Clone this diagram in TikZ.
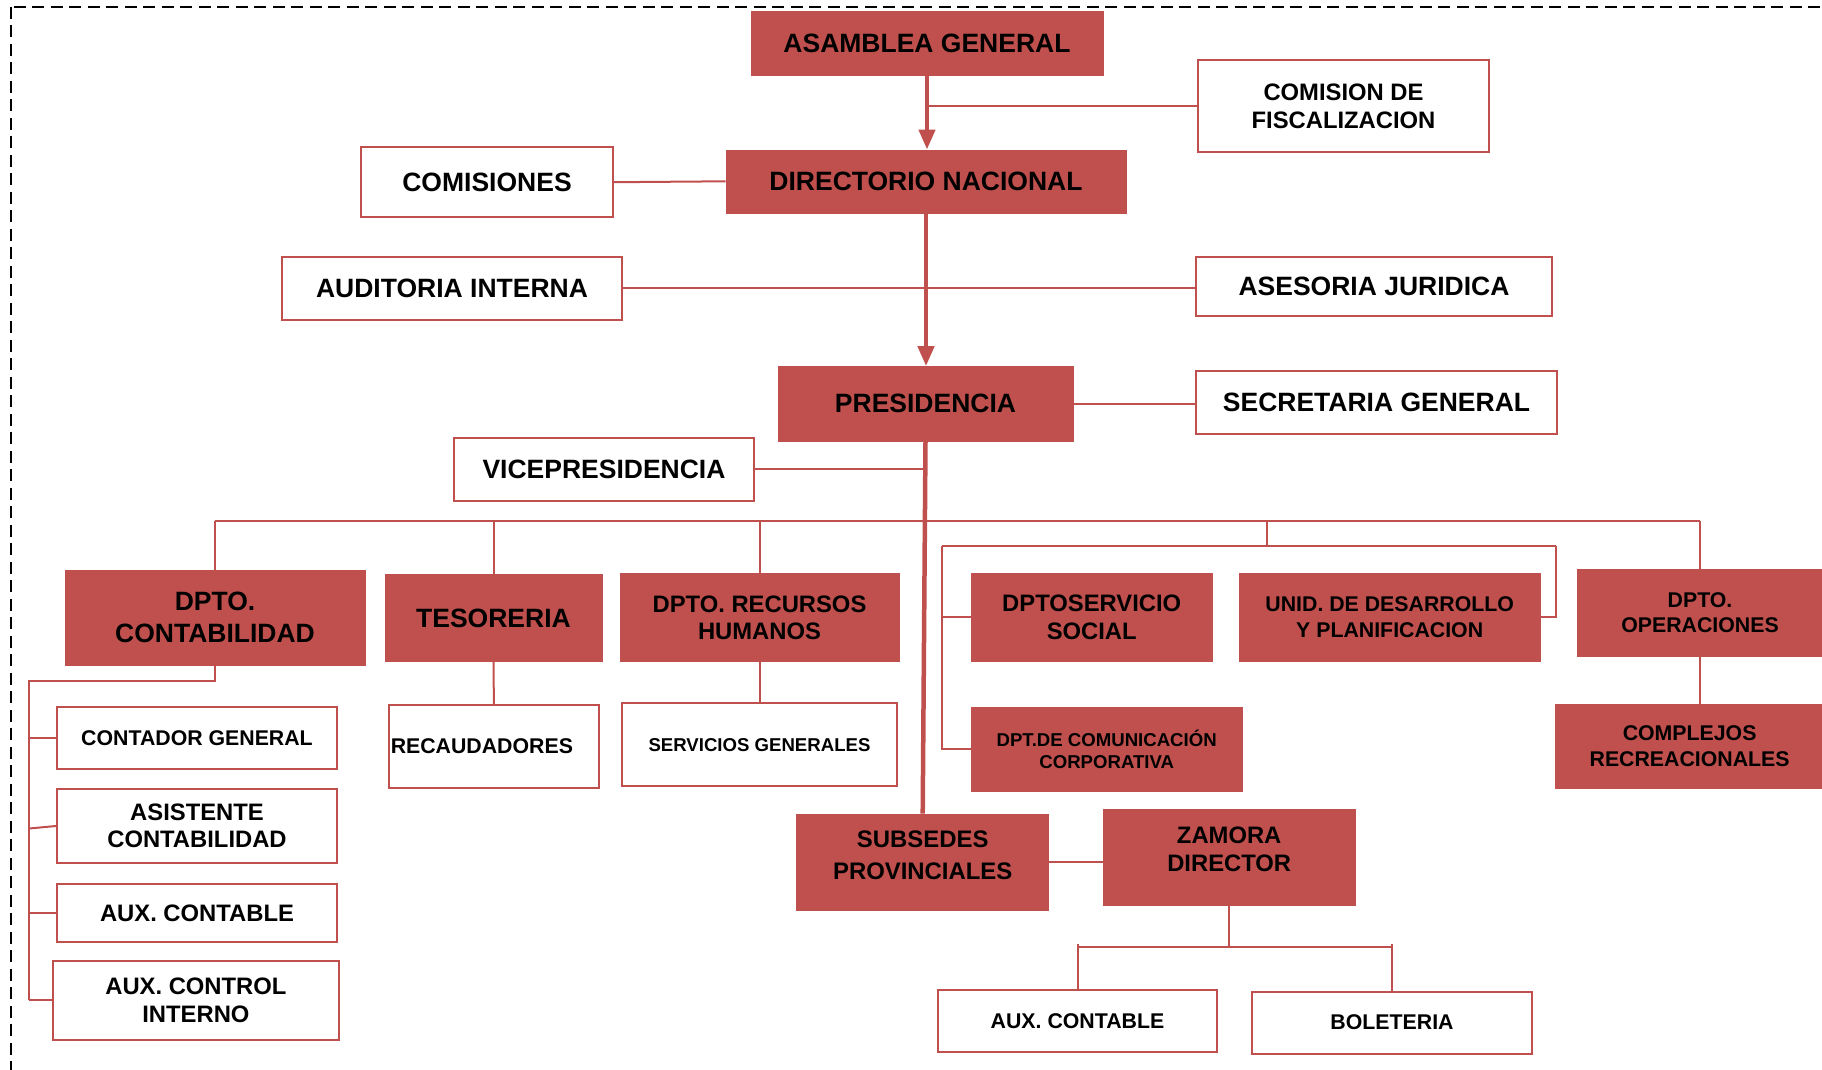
\documentclass[tikz,border=0pt]{standalone}
\usepackage{fontspec}
\setmainfont{Liberation Sans}
\usetikzlibrary{arrows.meta,calc}
\definecolor{orgred}{HTML}{C0504D}
\newcommand\fsA{\fontsize{26.5}{32}\selectfont\bfseries}
\newcommand\fsB{\fontsize{23.8}{27.5}\selectfont\bfseries}
\newcommand\fsBB{\fontsize{23.9}{32}\selectfont\bfseries}
\newcommand\fsC{\fontsize{21.3}{25.8}\selectfont\bfseries}
\newcommand\fsD{\fontsize{18.6}{21.7}\selectfont\bfseries}
\begin{document}
\begin{tikzpicture}[x=1pt,y=-1pt,
  box/.style={inner sep=0pt, align=center, text=black},
  redbox/.style={box, fill=orgred, draw=orgred, line width=0.6pt},
  whitebox/.style={box, fill=white, draw=orgred, line width=2pt},
  wh/.style 2 args={minimum width=#1, minimum height=#2},
  link/.style={draw=orgred, line width=2pt},
  trunk/.style={draw=orgred, line width=4.5pt},
  arrowtrunk/.style={trunk, -{Triangle[width=16pt,length=20pt]}},
  frame/.style={draw=black, line width=2.7pt, dash pattern=on 12pt off 6.5pt}]
\useasboundingbox (0,0) rectangle (1822,1069);
\clip (0,0) rectangle (1822,1069);
\draw[frame] (11,6.9) rectangle (1900,1150);

% top levels
\node[redbox, wh={352}{63.4}, font=\fsA] (asamblea) at (927,43.4) {ASAMBLEA GENERAL};
\node[whitebox, wh={291}{91.6}, font=\fsB] (fiscal) at (1343.5,106.1) {COMISION DE\\FISCALIZACION};
\node[whitebox, wh={252}{69.6}, font=\fsA] (comisiones) at (487,182.2) {COMISIONES};
\node[redbox, wh={400}{63}, font=\fsA] (directorio) at (926,181.3) {DIRECTORIO NACIONAL};
\node[whitebox, wh={340}{63.4}, font=\fsA] (auditoria) at (452,288.2) {AUDITORIA INTERNA};
\node[whitebox, wh={356}{59.3}, font=\fsA] (asesoria) at (1374,286.2) {ASESORIA JURIDICA};
\node[redbox, wh={295}{74.4}, font=\fsA] (presidencia) at (925.5,403.6) {PRESIDENCIA};
\node[whitebox, wh={361}{63.4}, font=\fsA] (secretaria) at (1376.5,402.2) {SECRETARIA GENERAL};
\node[whitebox, wh={300}{63}, font=\fsA] (vice) at (604,469.2) {VICEPRESIDENCIA};

% departments
\node[redbox, wh={300}{95.2}, font=\fsA] (contab) at (215,617.5) {DPTO.\\CONTABILIDAD};
\node[redbox, wh={217}{87.7}, font=\fsA] (tesoreria) at (493.5,617.9) {TESORERIA};
\node[redbox, wh={279}{88}, font=\fsB] (rrhh) at (759.5,617.7) {DPTO. RECURSOS\\HUMANOS};
\node[redbox, wh={241.8}{87.3}, font=\fsB] (servsocial) at (1091.7,617.4) {DPTOSERVICIO\\SOCIAL};
\node[redbox, wh={300.7}{87.3}, font=\fsC] (unid) at (1389.7,617.4) {UNID. DE DESARROLLO\\Y PLANIFICACION};
\node[redbox, wh={246}{87.7}, font=\fsC] (operaciones) at (1700,612.7) {DPTO.\\OPERACIONES};

% contabilidad children
\node[whitebox, wh={280}{61.6}, font=\fsC] (contador) at (197,737.8) {CONTADOR GENERAL};
\node[whitebox, wh={280}{74.2}, font=\fsB] (asistente) at (197,826) {ASISTENTE\\CONTABILIDAD};
\node[whitebox, wh={280}{58.2}, font=\fsB] (auxcont) at (197,913.1) {AUX. CONTABLE};
\node[whitebox, wh={286}{78.8}, font=\fsB] (auxcontrol) at (195.9,1000.1) {AUX. CONTROL\\INTERNO};

% other children
\node[whitebox, inner xsep=2pt, text width=206.3pt, align=left, minimum height=82.5pt, font=\fsC] (recaud) at (493.9,746.6) {RECAUDADORES};
\node[whitebox, wh={274.3}{83.5}, font=\fsD] (servgen) at (759.5,744.7) {SERVICIOS GENERALES};
\node[redbox, wh={270.6}{84.6}, font=\fsD] (dptcom) at (1106.7,749.3) {DPT.DE COMUNICACIÓN\\CORPORATIVA};
\node[redbox, wh={269.6}{84.2}, font=\fsC] (complejos) at (1689.6,746.4) {COMPLEJOS\\RECREACIONALES};
\node[redbox, wh={252}{96}, font=\fsBB] (subsedes) at (922.7,862) {SUBSEDES\\PROVINCIALES\\[-19pt]\mbox{}};
\node[redbox, wh={251.7}{96}, font=\fsB] (zamora) at (1229.2,857) {ZAMORA\\DIRECTOR\\[-11.5pt]\mbox{}};
\node[whitebox, wh={279.5}{61.8}, font=\fsC] (auxcont2) at (1077.5,1020.9) {AUX. CONTABLE};
\node[whitebox, wh={280}{61.8}, font=\fsC] (boleteria) at (1392,1022.6) {BOLETERIA};

% coordinates
\coordinate (bus) at (0,520.7);
\coordinate (grpL) at (941.8,546.2);
\coordinate (grpR) at (1556,546.2);
\coordinate (grpT) at (1266.6,546.2);
\coordinate (cL) at (29,681.3);
\coordinate (zb) at (1230,947);

% trunk
\draw[arrowtrunk] (asamblea.south) -- (asamblea.south |- directorio.north);
\draw[arrowtrunk] (directorio.south) -- (directorio.south |- presidencia.north);
\draw[trunk] (presidencia.south) -- (subsedes.north);

% side links
\draw[link] (fiscal.west) -- (fiscal.west -| asamblea.south);
\draw[link] (comisiones.east) -- (directorio.west);
\draw[link] (auditoria.east) -- (auditoria.east -| asesoria.west);
\draw[link] (presidencia.east) -- (presidencia.east -| secretaria.west);
\draw[link] (vice.east) -- (vice.east -| presidencia.south);

% department bus
\draw[link] (contab.north |- bus) -- (operaciones.north |- bus);
\draw[link] (contab.north) -- (contab.north |- bus);
\draw[link] (tesoreria.north) -- (tesoreria.north |- bus);
\draw[link] (rrhh.north) -- (rrhh.north |- bus);
\draw[link] (operaciones.north) -- (operaciones.north |- bus);
\draw[link] (grpT |- bus) -- (grpT);
\draw[link] (grpL) -- (grpR);
\draw[link] (grpR) |- (unid.east);
\draw[link] (grpL) |- (dptcom.west);
\draw[link] (servsocial.west) -- (servsocial.west -| grpL);
\draw[link] (operaciones.south) -- (operaciones.south |- complejos.north);

% contabilidad tree
\draw[link] (contab.south) |- (cL) -- (cL |- auxcontrol.west);
\draw[link] (contador.west) -- (contador.west -| cL);
\draw[link] (asistente.west) -- ([yshift=-2.5pt]asistente.west -| cL);
\draw[link] (auxcont.west) -- (auxcont.west -| cL);
\draw[link] (auxcontrol.west) -- (auxcontrol.west -| cL);

% other children links
\draw[link] (tesoreria.south) -- (recaud.north);
\draw[link] (rrhh.south) -- (servgen.north);
\draw[link] (subsedes.east) -- (subsedes.east -| zamora.west);
\draw[link] (zamora.south) -- (zamora.south |- zb);
\draw[link] (auxcont2.north |- zb) -- (boleteria.north |- zb);
\draw[link] (auxcont2.north) -- ([yshift=3pt]auxcont2.north |- zb);
\draw[link] (boleteria.north) -- ([yshift=3pt]boleteria.north |- zb);
\end{tikzpicture}
\end{document}
